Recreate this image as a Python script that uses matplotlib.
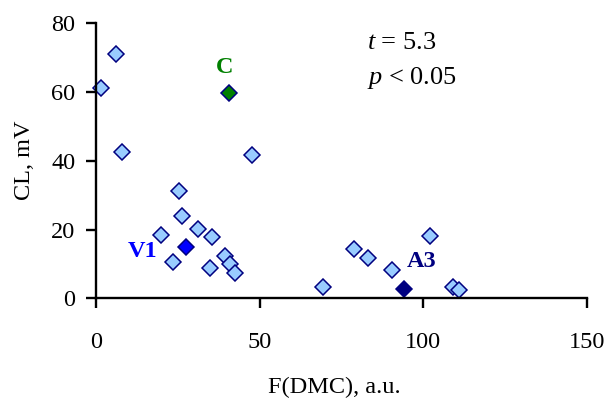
import matplotlib
matplotlib.use("Agg")
import matplotlib.pyplot as plt

# Data
x_vals = [1.5, 6.2, 7.9, 47.6, 25.4, 26.2, 19.9, 31.3, 35.6, 23.4, 34.9, 39.4, 41.1, 42.5,
          69.5, 78.9, 83.2, 90.4, 102.2, 109.0, 111.0]
y_vals = [61.1, 71.1, 42.5, 41.7, 31.2, 23.9, 18.5, 20.3, 17.8, 10.5, 8.9, 12.3, 9.9, 7.3,
          3.2, 14.3, 11.7, 8.2, 18.2, 3.4, 2.4]
special_names = ["C", "V1", "A3"]
special_x = [40.6, 27.5, 94.2]
special_y = [59.8, 14.9, 2.7]
special_fill = ["#008000", "#0000FF", "#000080"]
special_text_col = ["#008000", "#0000FF", "#000080"]
x_ticks = [0, 50, 100, 150]
y_ticks = [0, 20, 40, 60, 80]

plt.rcParams['font.family'] = ['Liberation Serif', 'DejaVu Serif']
plt.rcParams['mathtext.fontset'] = 'custom'
plt.rcParams['mathtext.it'] = 'Liberation Serif:italic'
plt.rcParams['mathtext.rm'] = 'Liberation Serif'

FS = 17.5
fig = plt.figure(figsize=(6.08, 4.0), dpi=100)
ax = fig.add_axes([96/608, 1 - 298.3/400, (586.7 - 96)/608, (298.3 - 23.3)/400])

ax.plot(x_vals, y_vals, linestyle='none', marker='D', markersize=8.3,
        markerfacecolor='#99CCFF', markeredgecolor='#000080', markeredgewidth=1.1, clip_on=False)
for sx, sy, fc in zip(special_x, special_y, special_fill):
    ax.plot([sx], [sy], linestyle='none', marker='D', markersize=8.3,
            markerfacecolor=fc, markeredgecolor='#000080', markeredgewidth=1.1, clip_on=False)

ax.set_xlim(0, 150)
ax.set_ylim(0, 80)
ax.set_xticks(x_ticks)
ax.set_yticks(y_ticks)
for s in ['top', 'right']:
    ax.spines[s].set_visible(False)
for s in ['left', 'bottom']:
    ax.spines[s].set_linewidth(1.7)
ax.tick_params(axis='both', direction='out', length=7, width=1.7, labelsize=FS)
ax.tick_params(axis='x', pad=17)
ax.tick_params(axis='y', pad=8)

# Point labels (offsets in points from the marker)
offsets = [(-2.7, 18), (-31, -3.4), (12.7, 20)]
for name, sx, sy, col, off in zip(special_names, special_x, special_y, special_text_col, offsets):
    ax.annotate(name, (sx, sy), xytext=off, textcoords='offset points', ha='center', va='center',
                fontsize=FS, fontweight='bold', color=col)

fig.text(366.7/608, 1 - 43/400, r"$t$ = 5.3", fontsize=19, ha='left', va='center')
fig.text(366.7/608, 1 - 78/400, r"$p$ < 0.05", fontsize=19, ha='left', va='center')

fig.text(334/608, 1 - 387/400, "F(DMC), a.u.", fontsize=FS, ha='center', va='center')
fig.text(25/608, 1 - 160/400, "CL, mV", fontsize=FS, ha='center', va='center', rotation=90)

fig.savefig("out.png", dpi=100)
